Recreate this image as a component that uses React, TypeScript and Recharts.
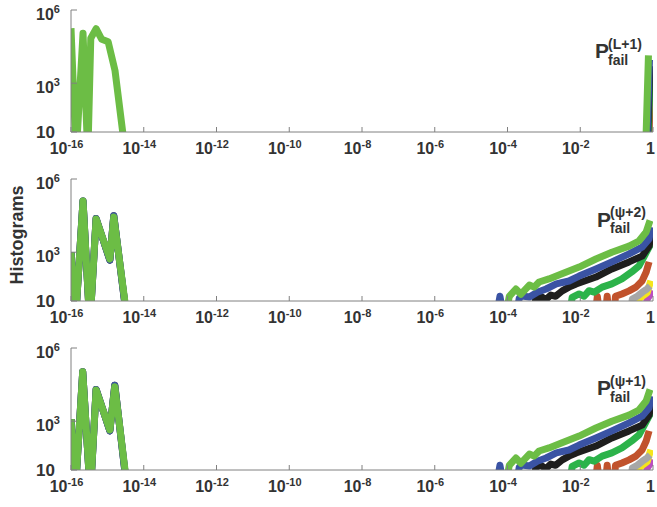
import React from 'react';
import { LineChart, Line, XAxis, YAxis } from 'recharts';

type Pt = { x: number; y: number };

// ---------- axis ticks ----------
const xTicks = [1e-16, 1e-14, 1e-12, 1e-10, 1e-8, 1e-6, 1e-4, 1e-2, 1];
const xTickLabels: [string, string][] = [
  ['10', '-16'], ['10', '-14'], ['10', '-12'], ['10', '-10'], ['10', '-8'],
  ['10', '-6'], ['10', '-4'], ['10', '-2'], ['1', ''],
];
const yTicks = [10, 1e3, 1e6];
const yTickLabels: [string, string][] = [['10', ''], ['10', '3'], ['10', '6']];

const yAxisTitle = 'Histograms';
const annMain = 'P';
const annSub = 'fail';
const annSup = ['(L+1)', '(ψ+2)', '(ψ+1)'];

// ---------- colours ----------
const C_LGREEN = '#6cbd45';
const C_BLUE = '#3a53a4';
const C_BLACK = '#1e1e1e';
const C_GREEN = '#2cb34a';
const C_BROWN = '#c1522c';
const C_GRAY = '#a7a7a7';
const C_YELLOW = '#f5e51b';
const C_MAGENTA = '#bb4fbf';
const TEXT = '#333333';
const AXIS = '#808080';

// ---------- panel 1 data (y = 1 means an empty bin, below the axis) ----------
const p1LGreen: Pt[] = [
  { x: 1e-16, y: 1.8e5 }, { x: 1.38e-16, y: 1 }, { x: 2.14e-16, y: 1.12e5 }, { x: 2.9e-16, y: 1 },
  { x: 3.5e-16, y: 7e4 }, { x: 4.9e-16, y: 1.7e5 }, { x: 7.0e-16, y: 6.3e4 }, { x: 1.05e-15, y: 5e4 },
  { x: 1.62e-15, y: 3300 }, { x: 3.2e-15, y: 1 },
  { x: 0.62, y: 1 }, { x: 0.75, y: 1.38e4 },
];
const p1Blue: Pt[] = [{ x: 0.66, y: 1 }, { x: 0.8, y: 9000 }];
const p1Black: Pt[] = [{ x: 0.68, y: 1 }, { x: 0.82, y: 5000 }];
const p1Green: Pt[] = [{ x: 0.7, y: 1 }, { x: 0.85, y: 3000 }];
const p1Brown: Pt[] = [{ x: 0.72, y: 1 }, { x: 0.88, y: 800 }];
const p1Gray: Pt[] = [{ x: 0.75, y: 1 }, { x: 0.9, y: 300 }];
const p1Yellow: Pt[] = [{ x: 0.78, y: 1 }, { x: 0.92, y: 150 }];
const p1Magenta: Pt[] = [{ x: 0.8, y: 1 }, { x: 0.95, y: 25 }];

// ---------- panel 2 / panel 3 left peaks ----------
const p2LGreenLeft: Pt[] = [
  { x: 1e-16, y: 1000 }, { x: 1.3e-16, y: 1 }, { x: 2.14e-16, y: 1.26e5 }, { x: 3.3e-16, y: 1 },
  { x: 4.9e-16, y: 2.3e4 }, { x: 1.17e-15, y: 525 }, { x: 1.5e-15, y: 2.75e4 }, { x: 3.7e-15, y: 1 },
];
const p2BlueLeft: Pt[] = [
  { x: 1e-16, y: 1000 }, { x: 1.3e-16, y: 1 }, { x: 2.14e-16, y: 1.26e5 }, { x: 3.3e-16, y: 1 },
  { x: 4.9e-16, y: 2.4e4 }, { x: 1.17e-15, y: 470 }, { x: 1.5e-15, y: 3.15e4 }, { x: 3.6e-15, y: 1 },
];
const p3LGreenLeft: Pt[] = [
  { x: 1e-16, y: 1200 }, { x: 1.3e-16, y: 1 }, { x: 2.1e-16, y: 1.07e5 }, { x: 3.4e-16, y: 1 },
  { x: 4.9e-16, y: 1.9e4 }, { x: 1.17e-15, y: 436 }, { x: 1.6e-15, y: 2.6e4 }, { x: 3.7e-15, y: 1 },
];
const p3BlueLeft: Pt[] = [
  { x: 1e-16, y: 1200 }, { x: 1.3e-16, y: 1 }, { x: 2.1e-16, y: 1.07e5 }, { x: 3.4e-16, y: 1 },
  { x: 4.9e-16, y: 2.0e4 }, { x: 1.17e-15, y: 400 }, { x: 1.6e-15, y: 3.0e4 }, { x: 3.6e-15, y: 1 },
];

// ---------- panel 2 / panel 3 right tails ----------
const lgreenRight: Pt[] = [
  { x: 8e-5, y: 1 }, { x: 1.12e-4, y: 15.6 }, { x: 1.7e-4, y: 31 }, { x: 2.34e-4, y: 19 },
  { x: 4.0e-4, y: 45 }, { x: 5.4e-4, y: 37 }, { x: 7.4e-4, y: 60 }, { x: 1.38e-3, y: 80 },
  { x: 3.16e-3, y: 130 }, { x: 9.3e-3, y: 245 }, { x: 0.027, y: 525 }, { x: 0.074, y: 1000 },
  { x: 0.22, y: 1780 }, { x: 0.41, y: 2880 }, { x: 0.65, y: 6760 }, { x: 0.83, y: 2.0e4 },
];
const blueRight: Pt[] = [
  { x: 4.5e-5, y: 1 }, { x: 6.2e-5, y: 15.6 }, { x: 8.5e-5, y: 1 }, { x: 1.6e-4, y: 1 },
  { x: 2.1e-4, y: 13 }, { x: 2.5e-4, y: 16 }, { x: 4e-4, y: 14.5 }, { x: 6.6e-4, y: 23 },
  { x: 1.15e-3, y: 31 }, { x: 2.2e-3, y: 50 }, { x: 4.9e-3, y: 66 }, { x: 9.3e-3, y: 105 },
  { x: 0.027, y: 205 }, { x: 0.074, y: 400 }, { x: 0.22, y: 850 }, { x: 0.5, y: 1620 },
  { x: 0.78, y: 3470 }, { x: 0.89, y: 1.07e4 },
];
const blackRight: Pt[] = [
  { x: 4.5e-4, y: 1 }, { x: 6.0e-4, y: 12.9 }, { x: 8.3e-4, y: 15.6 }, { x: 1.13e-3, y: 11.3 },
  { x: 1.55e-3, y: 17.6 }, { x: 2.1e-3, y: 15.6 }, { x: 3.2e-3, y: 26 }, { x: 4.9e-3, y: 37 },
  { x: 7.7e-3, y: 50 }, { x: 0.011, y: 60 }, { x: 0.027, y: 96 }, { x: 0.074, y: 205 },
  { x: 0.22, y: 400 }, { x: 0.5, y: 690 }, { x: 0.78, y: 1780 }, { x: 0.93, y: 6760 },
];
const greenRight: Pt[] = [
  { x: 4.5e-3, y: 1 }, { x: 6.0e-3, y: 14 }, { x: 9.3e-3, y: 19.5 }, { x: 0.0128, y: 15.6 },
  { x: 0.0175, y: 26.5 }, { x: 0.024, y: 23 }, { x: 0.04, y: 37 }, { x: 0.074, y: 50 },
  { x: 0.14, y: 80 }, { x: 0.26, y: 155 }, { x: 0.41, y: 270 }, { x: 0.56, y: 630 },
  { x: 0.78, y: 1620 }, { x: 0.93, y: 2630 },
];
const brownRight: Pt[] = [
  { x: 0.024, y: 1 }, { x: 0.0295, y: 15.6 }, { x: 0.037, y: 1 }, { x: 0.046, y: 1 },
  { x: 0.055, y: 15.6 }, { x: 0.066, y: 1 }, { x: 0.08, y: 1 }, { x: 0.093, y: 15.6 },
  { x: 0.14, y: 19.5 }, { x: 0.22, y: 26 }, { x: 0.34, y: 37 }, { x: 0.5, y: 66 },
  { x: 0.65, y: 155 }, { x: 0.78, y: 400 },
];
const grayRight: Pt[] = [
  { x: 0.22, y: 1 }, { x: 0.27, y: 12 }, { x: 0.37, y: 15.6 }, { x: 0.51, y: 23 },
  { x: 0.68, y: 31 }, { x: 0.83, y: 41 },
];
const yellowRight: Pt[] = [
  { x: 0.3, y: 1 }, { x: 0.37, y: 10.5 }, { x: 0.51, y: 15.6 }, { x: 0.69, y: 22 }, { x: 0.87, y: 68 },
];
const magentaRight: Pt[] = [
  { x: 0.55, y: 1 }, { x: 0.69, y: 12 }, { x: 0.87, y: 19.5 }, { x: 0.93, y: 28 },
];

type Series = { color: string; data: Pt[] };

const panel1: Series[] = [
  { color: C_MAGENTA, data: p1Magenta },
  { color: C_YELLOW, data: p1Yellow },
  { color: C_GRAY, data: p1Gray },
  { color: C_BROWN, data: p1Brown },
  { color: C_GREEN, data: p1Green },
  { color: C_BLACK, data: p1Black },
  { color: C_BLUE, data: p1Blue },
  { color: C_LGREEN, data: p1LGreen },
];
const panel2: Series[] = [
  { color: C_MAGENTA, data: magentaRight },
  { color: C_YELLOW, data: yellowRight },
  { color: C_GRAY, data: grayRight },
  { color: C_BROWN, data: brownRight },
  { color: C_GREEN, data: greenRight },
  { color: C_BLACK, data: [...p2BlueLeft, ...blackRight] },
  { color: C_BLUE, data: [...p2BlueLeft, ...blueRight] },
  { color: C_LGREEN, data: [...p2LGreenLeft, ...lgreenRight] },
];
const panel3: Series[] = [
  { color: C_MAGENTA, data: magentaRight },
  { color: C_YELLOW, data: yellowRight },
  { color: C_GRAY, data: grayRight },
  { color: C_BROWN, data: brownRight },
  { color: C_GREEN, data: greenRight },
  { color: C_BLACK, data: [...p3BlueLeft, ...blackRight] },
  { color: C_BLUE, data: [...p3BlueLeft, ...blueRight] },
  { color: C_LGREEN, data: [...p3LGreenLeft, ...lgreenRight] },
];

const FONT = '"Liberation Sans", Arial, Helvetica, sans-serif';

const XTick = (props: any) => {
  const { x, y, payload } = props;
  const i = xTicks.indexOf(payload.value);
  const [base, sup] = xTickLabels[i] || ['', ''];
  return (
    <g>
      <line x1={x} x2={x} y1={y} y2={y - 5} stroke={AXIS} strokeWidth={1} />
      <text x={x} y={y + 22} dx={sup ? -4.5 : -2.5} textAnchor="middle" fill={TEXT} fontFamily={FONT} fontWeight="bold">
        <tspan fontSize={16}>{base}</tspan>
        {sup ? <tspan fontSize={11} dy={-6}>{sup}</tspan> : null}
      </text>
    </g>
  );
};

const YTick = (props: any) => {
  const { x, y, payload } = props;
  const i = yTicks.indexOf(payload.value);
  const [base, sup] = yTickLabels[i] || ['', ''];
  return (
    <g>
      <line x1={x} x2={x + 6} y1={y} y2={y} stroke={AXIS} strokeWidth={1} />
      <text x={x - 35} y={sup ? y + 9.5 : y + 6} textAnchor="start" fill={TEXT} fontFamily={FONT} fontWeight="bold">
        <tspan fontSize={sup ? 16 : 17}>{base}</tspan>
        {sup ? <tspan fontSize={11} dy={-6.5}>{sup}</tspan> : null}
      </text>
    </g>
  );
};

const MT = 10;
const XH = 30;

function Panel({ top, bottom, series }: { top: number; bottom: number; series: Series[] }) {
  const h = bottom - top + MT + XH;
  return (
    <div style={{ position: 'absolute', left: 0, top: top - MT }}>
      <LineChart width={657} height={h} margin={{ top: MT, right: 4, bottom: 0, left: 0 }}>
        <XAxis
          dataKey="x" type="number" scale="log" domain={[1e-16, 1]} allowDataOverflow
          ticks={xTicks} interval={0} tick={(p: any) => <XTick {...p} />}
          tickLine={false} tickSize={0} tickMargin={0} height={XH}
          axisLine={{ stroke: AXIS, strokeWidth: 1 }}
        />
        <YAxis
          type="number" scale="log" domain={[10, 1e6]} allowDataOverflow
          ticks={yTicks} interval={0} tick={(p: any) => <YTick {...p} />}
          tickLine={false} tickSize={0} tickMargin={0} width={71}
          axisLine={{ stroke: AXIS, strokeWidth: 1 }}
        />
        {series.map((s, i) => (
          <Line
            key={i} data={s.data} dataKey="y" type="linear" stroke={s.color} strokeWidth={7}
            strokeLinejoin="round" strokeLinecap="butt" dot={false} activeDot={false}
            isAnimationActive={false}
          />
        ))}
      </LineChart>
    </div>
  );
}

const panelBoxes = [
  { top: 10, bottom: 132 },
  { top: 179, bottom: 301 },
  { top: 348, bottom: 470 },
];
const annPos = [
  { px: 595, pb: 58, sx: 608, supB: 49, subB: 65 },
  { px: 597, pb: 226.5, sx: 610, supB: 217, subB: 233 },
  { px: 597, pb: 395, sx: 610, supB: 385.5, subB: 401.5 },
];

export default function App() {
  const panels = [panel1, panel2, panel3];
  return (
    <div style={{ position: 'absolute', left: 0, top: 0, width: 657, height: 507, background: '#fff' }}>
      {panels.map((s, i) => (
        <Panel key={i} top={panelBoxes[i].top} bottom={panelBoxes[i].bottom} series={s} />
      ))}
      <svg width={657} height={507} style={{ position: 'absolute', left: 0, top: 0, pointerEvents: 'none' }}>
        <text transform="translate(23,235) rotate(-90)" textAnchor="middle" fontFamily={FONT} fontWeight="bold" fontSize={18} fill={TEXT}>
          {yAxisTitle}
        </text>
        {annPos.map((a, i) => (
          <g key={i} fontFamily={FONT} fontWeight="bold" fill={TEXT}>
            <text x={a.px} y={a.pb} fontSize={21}>{annMain}</text>
            <text x={a.sx} y={a.supB} fontSize={14}>{annSup[i]}</text>
            <text x={a.sx} y={a.subB} fontSize={14}>{annSub}</text>
          </g>
        ))}
      </svg>
    </div>
  );
}
